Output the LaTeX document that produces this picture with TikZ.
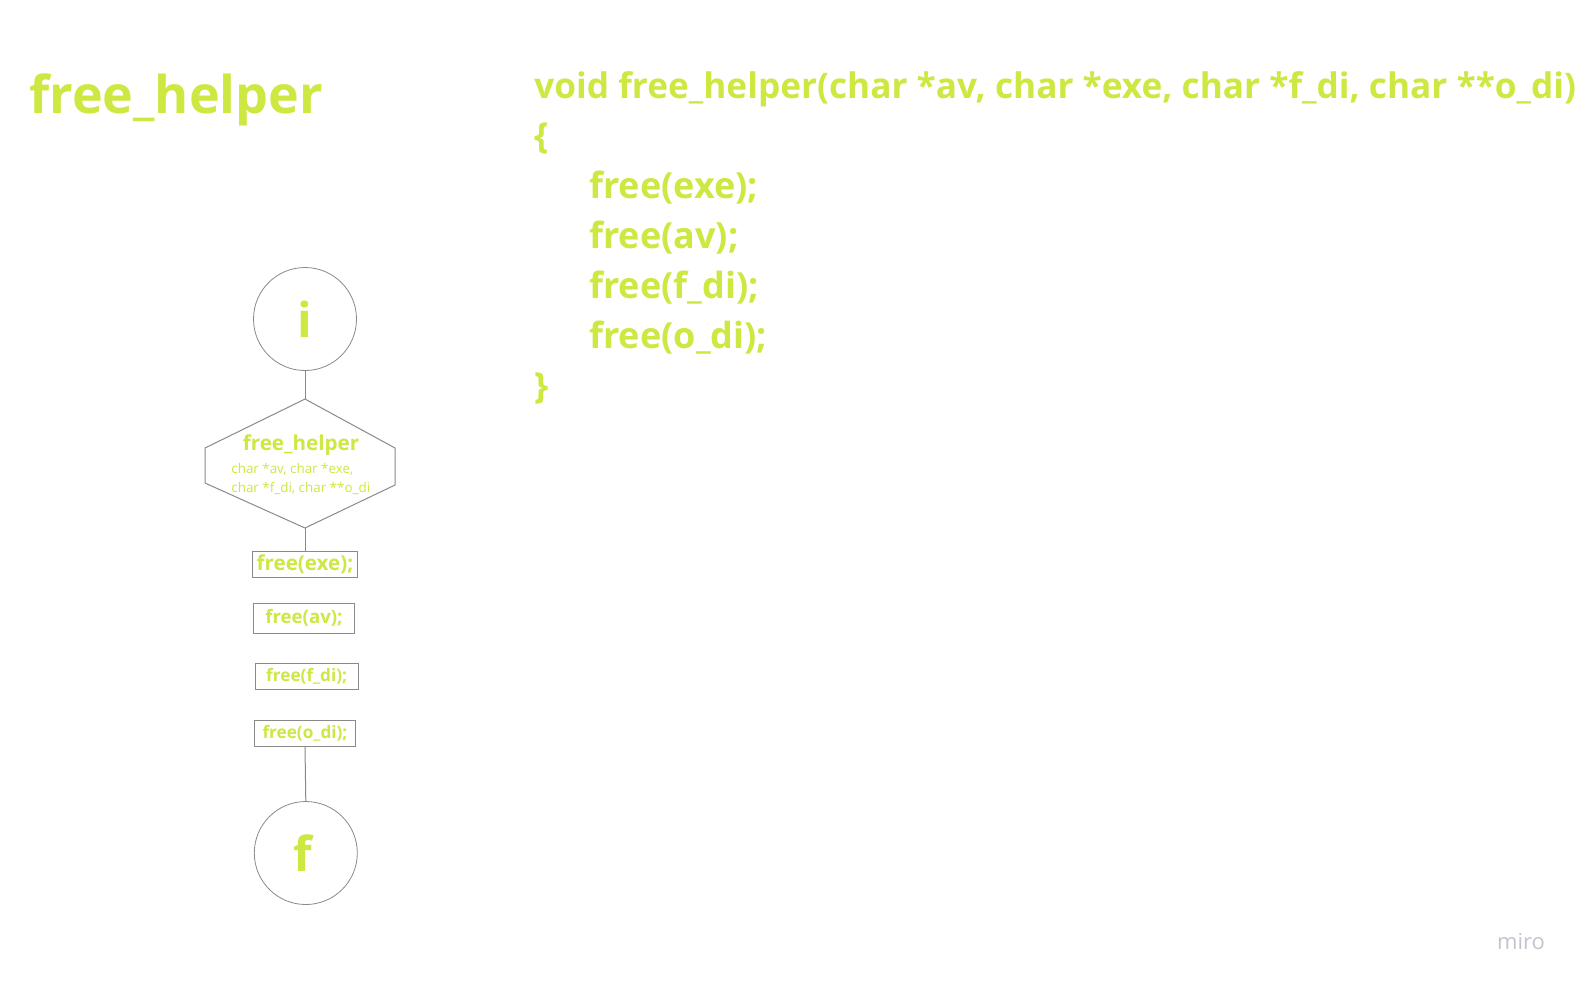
\documentclass[tikz,border=0pt]{standalone}
\usepackage{fontspec}
\setmainfont{Open Sans}
\definecolor{lime}{HTML}{CEE741}
\definecolor{edge}{HTML}{8A8A8A}
\definecolor{logo}{HTML}{C4C4CE}
\begin{document}
\begin{tikzpicture}[x=0.5pt,y=-0.5pt,
  every node/.style={text=lime, font=\bfseries},
  circ/.style={circle, draw=edge, line width=0.4pt, minimum size=51.5pt, inner sep=0pt, font=\bfseries\fontsize{24pt}{28pt}\selectfont},
  stmt/.style={rectangle, draw=edge, line width=0.5pt, inner sep=0pt, minimum height=13pt},
  conn/.style={draw=edge, line width=0.5pt},
  code/.style={anchor=base west, inner sep=0pt, font=\bfseries\fontsize{18pt}{22pt}\selectfont}]
\useasboundingbox[fill=white] (0,0) rectangle (1582,987);

% title
\node[anchor=base west, inner sep=0pt, font=\bfseries\fontsize{26pt}{30pt}\selectfont] (title) at (29,113) {free\_helper};

% code
\node[code, font=\bfseries\fontsize{17.6pt}{22pt}\selectfont] (l1) at (534,98) {void free\_helper(char *av, char *exe, char *f\_di, char **o\_di)};
\node[code] (l2) at (534,148) {\{};
\node[code] (l3) at (589,198) {free(exe);};
\node[code] (l4) at (589,248) {free(av);};
\node[code] (l5) at (589,298) {free(f\_di);};
\node[code] (l6) at (589,348) {free(o\_di);};
\node[code] (l7) at (534,398) {\}};

% flowchart
\node[circ] (ci) at (305,319) {i};
\coordinate (ht) at (305,399);
\coordinate (hb) at (305,528);
\draw[conn] (ht) -- (205,448) -- (205,483) -- (hb) -- (395,485) -- (395,448) -- cycle;
\node[inner sep=0pt, font=\bfseries\fontsize{10.3pt}{12pt}\selectfont] (hxt) at (301,445) {free\_helper};
\node[anchor=west, inner sep=0pt, align=left, font=\fontsize{6.7pt}{9.5pt}\selectfont] (hxa) at (231,478.5) {char *av, char *exe,\\char *f\_di, char **o\_di};

\node[stmt, minimum width=52.5pt, font=\bfseries\fontsize{10.3pt}{12pt}\selectfont] (b1) at (305,564.5) {free(exe);};
\node[stmt, minimum width=50.5pt, minimum height=15pt, font=\bfseries\fontsize{9.3pt}{11pt}\selectfont] (b2) at (304,618) {free(av);};
\node[stmt, minimum width=51.5pt, font=\bfseries\fontsize{8.6pt}{10pt}\selectfont] (b3) at (306.7,676) {free(f\_di);};
\node[stmt, minimum width=50.5pt, font=\bfseries\fontsize{8.6pt}{10pt}\selectfont] (b4) at (305,733) {free(o\_di);};

\node[circ] (cf) at (305.8,853) {\hspace*{-3pt}f};

\draw[conn] (ci.south) -- (ht);
\draw[conn] (hb) -- (b1.north);
\draw[conn] (b4.south) -- (cf.north);

% logo
\node[text=logo, font=\fontsize{11pt}{13pt}\selectfont] (miro) at (1521,942) {miro};
\end{tikzpicture}
\end{document}
